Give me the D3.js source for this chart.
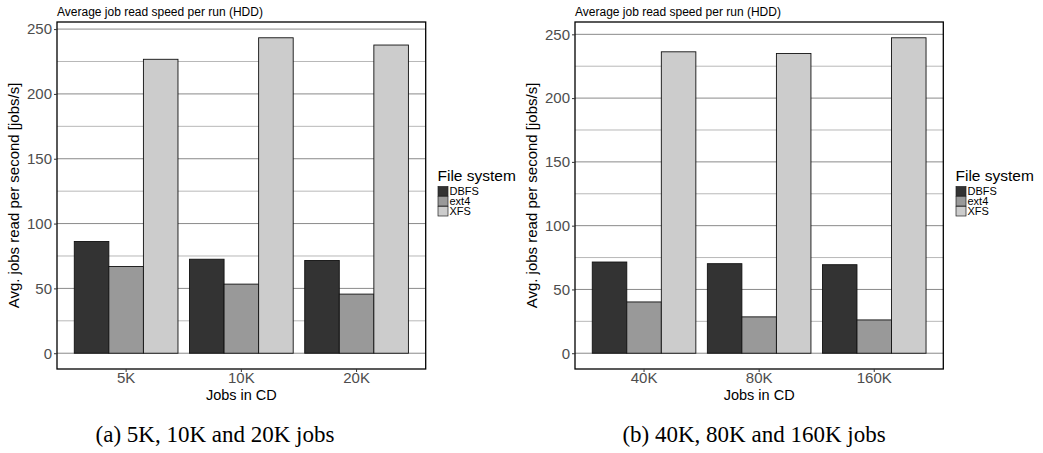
<!DOCTYPE html>
<html>
<head>
<meta charset="utf-8">
<script src="https://cdn.jsdelivr.net/npm/d3@7"></script>
<style>
  body { margin: 0; background: #fff; }
  text { font-family: "Liberation Sans", Arial, sans-serif; }
</style>
</head>
<body>
<svg id="chart" width="1043" height="453"></svg>
<script>
  // data
  var series = ["DBFS", "ext4", "XFS"];
  var fills = ["#333333", "#999999", "#cccccc"];

  var leftGroups = ["5K", "10K", "20K"];
  var dbfsLeft = [86.2, 72.5, 71.5];
  var ext4Left = [66.9, 53.3, 45.6];
  var xfsLeft = [226.7, 243.3, 237.7];

  var rightGroups = ["40K", "80K", "160K"];
  var dbfsRight = [71.5, 70.2, 69.4];
  var ext4Right = [40.2, 28.5, 26.1];
  var xfsRight = [236.3, 235.0, 247.3];

  var majorTicks = [0, 50, 100, 150, 200, 250];
  var minorTicks = [25, 75, 125, 175, 225];

  var svg = d3.select("#chart");

  var drawPanel = function(p) {
    var g = svg.append("g");
    var rows = [];
    p.groups.forEach(function(grp, i) {
      rows.push({grp: grp, s: "DBFS", v: p.dbfs[i]});
      rows.push({grp: grp, s: "ext4", v: p.ext4[i]});
      rows.push({grp: grp, s: "XFS", v: p.xfs[i]});
    });
    var max = d3.max(rows, function(d) { return d.v; });

    var x = d3.scaleBand().domain(p.groups)
      .range([p.left, p.right]).paddingInner(0.1).paddingOuter(0.15);
    var xs = d3.scaleBand().domain(series).range([0, x.bandwidth()]);
    var y = d3.scaleLinear().domain([-0.05 * max, 1.05 * max])
      .range([p.bottom, p.top]);
    var color = d3.scaleOrdinal().domain(series).range(fills);

    // grid
    g.selectAll("line.minor").data(minorTicks).enter().append("line")
      .attr("x1", p.left).attr("x2", p.right)
      .attr("y1", function(d) { return y(d); })
      .attr("y2", function(d) { return y(d); })
      .attr("stroke", "#b8b8b8").attr("stroke-width", 1);
    g.selectAll("line.major").data(majorTicks).enter().append("line")
      .attr("x1", p.left).attr("x2", p.right)
      .attr("y1", function(d) { return y(d); })
      .attr("y2", function(d) { return y(d); })
      .attr("stroke", "#8a8a8a").attr("stroke-width", 1);

    // bars
    g.selectAll("rect.bar").data(rows).enter().append("rect")
      .attr("x", function(d) { return x(d.grp) + xs(d.s); })
      .attr("width", xs.bandwidth())
      .attr("y", function(d) { return y(d.v); })
      .attr("height", function(d) { return y(0) - y(d.v); })
      .attr("fill", function(d) { return color(d.s); })
      .attr("stroke", "#111").attr("stroke-width", 0.9);

    // panel border
    g.append("rect")
      .attr("x", p.left).attr("y", p.top)
      .attr("width", p.right - p.left).attr("height", p.bottom - p.top)
      .attr("fill", "none").attr("stroke", "#000").attr("stroke-width", 1.3);

    // axes
    var yAxis = g.append("g").attr("transform", "translate(" + p.left + ",0)")
      .call(d3.axisLeft(y).tickValues(majorTicks).tickSize(3).tickPadding(2));
    var xAxis = g.append("g").attr("transform", "translate(0," + p.bottom + ")")
      .call(d3.axisBottom(x).tickSize(3).tickPadding(0));
    [yAxis, xAxis].forEach(function(a) {
      a.select(".domain").remove();
      a.selectAll(".tick line").attr("stroke", "#333");
      a.selectAll("text").attr("fill", "#4d4d4d")
        .style("font-size", "15px")
        .style("font-family", "Liberation Sans, Arial, sans-serif");
    });

    g.append("text").attr("x", p.left).attr("y", 16)
      .style("font-size", "12px").text("Average job read speed per run (HDD)");

    g.append("text")
      .attr("transform", "translate(" + (p.left - 38) + "," + ((p.top + p.bottom) / 2) + ") rotate(-90)")
      .attr("text-anchor", "middle").style("font-size", "15px")
      .text("Avg. jobs read per second [jobs/s]");

    g.append("text").attr("x", (p.left + p.right) / 2).attr("y", 399.5)
      .attr("text-anchor", "middle").style("font-size", "14.5px").text("Jobs in CD");

    // legend
    var lg = g.append("g").attr("transform", "translate(" + p.legendX + ",0)");
    lg.append("text").attr("x", 0).attr("y", 181).style("font-size", "15.5px").text("File system");
    var items = lg.selectAll("g.key").data(series).enter().append("g")
      .attr("transform", function(d, i) { return "translate(0," + (186 + i * 10) + ")"; });
    items.append("rect").attr("x", 0.5).attr("y", 0.5).attr("width", 10).attr("height", 9.5)
      .attr("fill", function(d) { return color(d); })
      .attr("stroke", "#222").attr("stroke-width", 0.7);
    items.append("text").attr("x", 12).attr("y", 9).style("font-size", "11px")
      .text(function(d) { return d; });

    svg.append("text").attr("x", p.captionX).attr("y", 442)
      .attr("text-anchor", "middle")
      .style("font-family", "Liberation Serif, 'DejaVu Serif', serif")
      .style("font-size", "23px").text(p.caption);
  };

  drawPanel({
    groups: leftGroups, dbfs: dbfsLeft, ext4: ext4Left, xfs: xfsLeft,
    left: 57, right: 425.7, top: 22, bottom: 369,
    legendX: 437.5, captionX: 215, caption: "(a) 5K, 10K and 20K jobs"
  });
  drawPanel({
    groups: rightGroups, dbfs: dbfsRight, ext4: ext4Right, xfs: xfsRight,
    left: 575, right: 943.3, top: 22, bottom: 369,
    legendX: 955.5, captionX: 754, caption: "(b) 40K, 80K and 160K jobs"
  });
</script>
</body>
</html>
